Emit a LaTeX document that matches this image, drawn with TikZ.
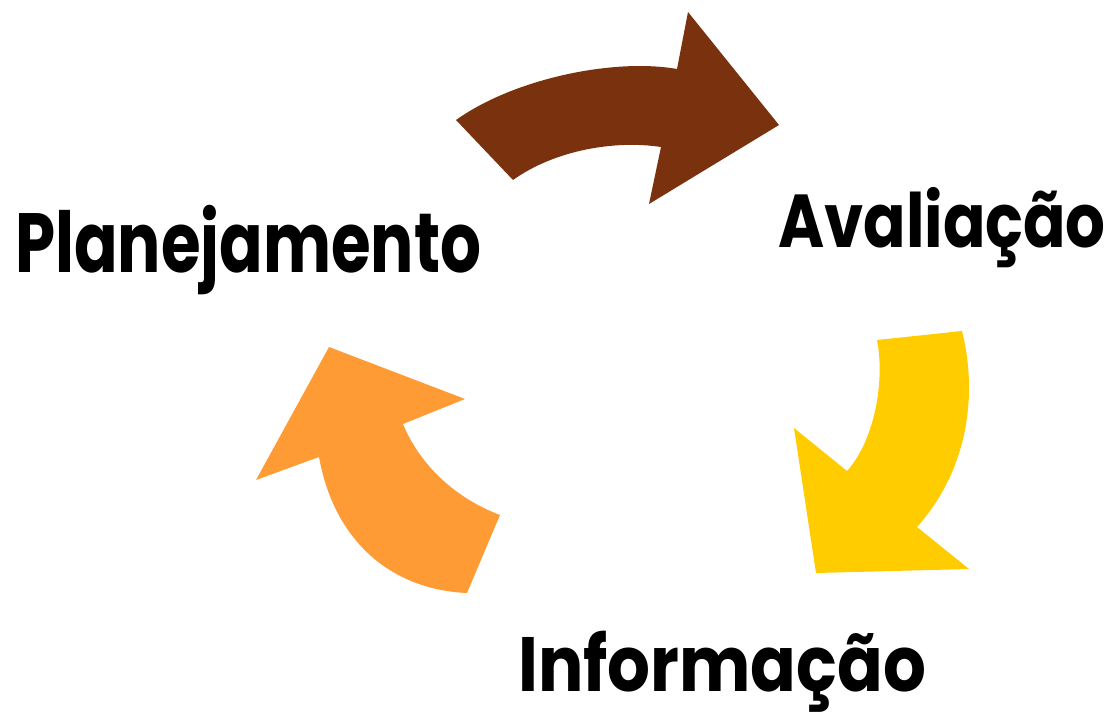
\documentclass[tikz,border=0pt]{standalone}
\usepackage{fontspec}
\setmainfont{Poppins}
\usetikzlibrary{positioning}
\definecolor{arrowbrown}{RGB}{122,49,14}
\definecolor{arrowyellow}{RGB}{255,204,0}
\definecolor{arroworange}{RGB}{255,155,53}
\tikzset{cyclelabel/.style={inner sep=0pt, anchor=base west}}
\newcommand{\narrowtext}[2]{\scalebox{#1}[1]{#2}}

\begin{document}
\begin{tikzpicture}[x=1pt,y=-1pt]
	\useasboundingbox (0,0) rectangle (1109,717);

	% brown arrow
	\fill[arrowbrown] (456,120) .. controls (515,78) and (615,58) .. (677,69)
		-- (688,12) -- (779,125) -- (649,204) -- (661,147)
		.. controls (615,140) and (555,150) .. (513,180) -- cycle;

	% yellow arrow
	\fill[arrowyellow] (877,340) -- (962,331)
		.. controls (978,395) and (968,470) .. (917,527)
		-- (969,569) -- (816,573) -- (794,428) -- (847,471)
		.. controls (875,440) and (885,380) .. (877,340) -- cycle;

	% orange arrow
	\fill[arroworange] (467,593) -- (500,515)
		.. controls (455,498) and (420,465) .. (403,424)
		-- (465,399) -- (329,347) -- (256,480) -- (319,457)
		.. controls (335,545) and (395,590) .. (467,593) -- cycle;

	\node[cyclelabel, font=\bfseries\fontsize{84}{90}\selectfont] (plan) at (15,272) {\narrowtext{0.765}{Planejamento}};
	\node[cyclelabel, font=\bfseries\fontsize{75}{80}\selectfont] (aval) at (778,247) {\narrowtext{0.835}{Avaliação}};
	\node[cyclelabel, font=\bfseries\fontsize{77}{90}\selectfont] (info) at (518,691) {\narrowtext{0.875}{Informação}};

\end{tikzpicture}
\end{document}
